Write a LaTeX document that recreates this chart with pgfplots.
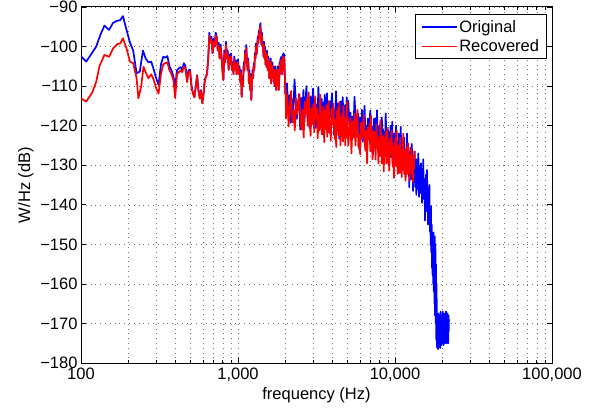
\documentclass[border=0pt]{standalone}
\usepackage{fontspec}
\setmainfont{Liberation Sans}
\usepackage{pgfplots}
\usepackage{pgfplotstable}
\pgfplotsset{compat=1.18}

\pgfplotstableread{
f db
100 -102.5
108 -103.8
118 -101.5
125 -100
133 -97
141 -94.7
151 -95.8
160 -94
170 -93.5
178 -93.3
185 -92.3
195 -95.8
205 -99
215 -101
226 -106.8
237 -106.3
248 -101
258 -103
269 -104
280 -103.8
291 -105.9
301 -108
312 -109.7
323 -104.5
334 -102.6
345 -102.8
355 -102.4
366 -105
377 -106
388 -107.6
398 -110
409 -106
420 -105.5
431 -105.2
441 -105.8
452 -104.2
463 -105
474 -108.5
484 -106
495 -105.9
506 -110
517 -111.8
528 -112.7
538 -110
549 -107.2
560 -111
571 -113
581 -111
592 -114.2
603 -112
614 -108.5
624 -107.6
635 -106.8
646 -103
657 -96.5
667 -99
678 -97.5
689 -101.7
700 -98
710 -100
721 -96.5
732 -97.5
743 -101
753 -99
764 -103
775 -99.5
786 -102.6
796 -106
807 -108.5
818 -101
829 -104
839 -98.8
850 -103
861 -101
872 -105.9
882 -102
893 -104.5
904 -101.7
915 -106
925 -104
936 -107
947 -102.5
958 -105.5
968 -103.5
979 -107
990 -104
1001 -103.2
1012 -107
1023 -105
1033 -109
1044 -106
1055 -112.7
1066 -108
1076 -110
1087 -104
1098 -106
1109 -101
1120 -104
1130 -99.6
1141 -104
1152 -106
1163 -103
1173 -109.3
1184 -106
1195 -111
1205 -107
1216 -113.5
1227 -109
1238 -106
1248 -108
1259 -104.2
1270 -106
1281 -101.6
1291 -103
1302 -99.2
1313 -102
1324 -100.5
1335 -97.5
1345 -99.2
1356 -96
1367 -98
1378 -95
1389 -94.1
1399 -97
1410 -99.5
1421 -96.5
1432 -100
1443 -98.8
1453 -102.5
1464 -98.8
1475 -103
1486 -100
1496 -104.5
1507 -102
1518 -105.1
1529 -101
1539 -104
1550 -106
1561 -102.5
1572 -105
1582 -108
1593 -104
1604 -107
1615 -103
1625 -109.3
1636 -106
1647 -108
1658 -104
1668 -107
1679 -105
1690 -109
1701 -106
1711 -110
1722 -105
1733 -108
1743 -106
1754 -111
1765 -107
1776 -109
1787 -105
1797 -110
1808 -107
1819 -111
1830 -108
1841 -104
1852 -107
1862 -103
1873 -106
1884 -102.6
1895 -105
1905 -103
1916 -107
1927 -102
1938 -105
1948 -101.7
1959 -104
1970 -102
1981 -106
1991 -108
2002 -112
2013 -110
2024 -116
2034 -117.7
2050 -109.3
2090 -115.3
2130 -112.3
2170 -119.3
2210 -113.3
2250 -117.3
2290 -108.3
2330 -113.3
2370 -118.3
2410 -114.3
2450 -112
2490 -121
2530 -113
2570 -117
2610 -111
2650 -119
2690 -114
2730 -110
2770 -118
2810 -115
2850 -120.6
2890 -112.6
2930 -116.6
2970 -113.6
3010 -110.6
3050 -116.6
3090 -113.6
3130 -120.6
3170 -114.6
3210 -118.6
3250 -110.2
3290 -115.2
3330 -120.2
3370 -116.2
3410 -113.2
3450 -122.2
3490 -114.2
3530 -118.2
3570 -112.2
3610 -120.2
3650 -115.8
3690 -111.8
3730 -119.8
3770 -116.8
3810 -121.8
3850 -113.8
3890 -117.8
3930 -114.8
3970 -111.8
4010 -117.8
4050 -115.3
4090 -122.3
4130 -116.3
4170 -120.3
4210 -111.3
4250 -116.3
4290 -121.3
4330 -117.3
4370 -114.3
4410 -123.3
4450 -115.8
4490 -119.8
4530 -113.8
4570 -121.8
4610 -116.8
4650 -112.8
4690 -120.8
4730 -117.8
4770 -122.8
4810 -114.8
4850 -118.8
4890 -115.8
4930 -112.8
4970 -118.8
5040 -113.7
5120 -119.7
5200 -116.7
5280 -123.7
5360 -117.7
5440 -121.7
5520 -112.7
5600 -117.7
5680 -122.7
5760 -118.7
5840 -117
5920 -126
6000 -118
6080 -122
6160 -116
6240 -124
6320 -119
6400 -115
6480 -123
6560 -120
6640 -126.2
6720 -118.2
6800 -122.2
6880 -119.2
6960 -116.2
7040 -123.2
7120 -125.2
7200 -120.2
7280 -127.2
7360 -118.2
7440 -122.1
7520 -118.1
7600 -125.1
7680 -116.1
7760 -123.1
7840 -127.1
7920 -120.1
8000 -124.1
8080 -119.1
8160 -126.1
8240 -117.9
8320 -123.9
8400 -120.9
8480 -127.9
8560 -121.9
8640 -125.9
8720 -116.9
8800 -121.9
8880 -126.9
8960 -122.9
9040 -121
9120 -130
9200 -122
9280 -126
9360 -120
9440 -128
9520 -123
9600 -119
9680 -127
9760 -124
9840 -130
9920 -122
10000 -126
10080 -123
10160 -120
10240 -127
10320 -129
10400 -124
10480 -131
10560 -122
10640 -126.3
10720 -122.3
10800 -129.3
10880 -120.3
10960 -127.3
11040 -131.3
11120 -124.3
11200 -128.3
11280 -123.3
11360 -130.3
11440 -123
11520 -129
11600 -126
11680 -133
11760 -127
11840 -131
11920 -122
12000 -127
12080 -132
12160 -128
12240 -126.6
12320 -135.6
12400 -127.6
12480 -131.6
12560 -125.6
12640 -133.6
12720 -128.6
12800 -124.6
12880 -132.6
12960 -129.6
13040 -136.5
13120 -128.5
13200 -132.5
13280 -129.5
13360 -126.5
13440 -133.5
13520 -135.5
13600 -130.5
13680 -137.5
13760 -128.5
13840 -133
13920 -129
14000 -136
14080 -127
14160 -134
14240 -138
14320 -131
14400 -135
14480 -130
14560 -137
14640 -129.5
14720 -135.5
14800 -132.5
14880 -139.5
14960 -133.5
15040 -137.5
15120 -128.5
15200 -133.5
15280 -138.5
15360 -134.5
15440 -133.5
15520 -144
15600 -134.7
15680 -139.3
15760 -132.4
15840 -141.6
15920 -135.8
16000 -131.2
16080 -140.5
16160 -137
16240 -145
16320 -136
16400 -141.7
16480 -138.6
16560 -135
16640 -143.4
16720 -146.8
16800 -141.8
16880 -150.2
16960 -140.4
17040 -152
17120 -145
17200 -156
17280 -147
17360 -158
17440 -148
17520 -160
17600 -147
17680 -162
17760 -149
17840 -165
17920 -148
18000 -168
18080 -150
18160 -170
18240 -155
18320 -174
18400 -160
18480 -176
18560 -168
18640 -175
18720 -170
18800 -176.5
18880 -167.5
18960 -173
19040 -169
19120 -176
19200 -168
19280 -172
19360 -170
19440 -176.2
19520 -167
19600 -174
19680 -169.5
19760 -175.5
19840 -168
19920 -171.5
20000 -169
20080 -174.5
20160 -167
20240 -173
20320 -170
20400 -175.5
20480 -168.5
20560 -172
20640 -167.5
20720 -174
20800 -169
20880 -175
20960 -168
21040 -171
21120 -167
21200 -174.5
21280 -169.5
21360 -175
21440 -168
21520 -172.5
21600 -167.5
21680 -174
21760 -169
21840 -175
21920 -168
22000 -172
22050 -169
}\original

\pgfplotstableread{
f db
100 -113.1
108 -113.9
118 -111.6
125 -108.9
131 -105
141 -102.1
151 -102.6
160 -100.5
170 -99.4
178 -99.2
185 -97.9
195 -100.5
205 -103.8
215 -104.2
226 -108
232 -113.1
242 -110
250 -105.1
258 -106.5
269 -108
280 -107
291 -108.5
301 -110.5
312 -111.9
323 -107
334 -104.5
345 -104.2
355 -104
366 -106
377 -107
388 -108.5
398 -113
409 -107
420 -106.5
431 -106
441 -106.5
452 -105
463 -105.8
474 -109
484 -106.5
495 -106.2
506 -110.5
517 -112
528 -112.9
538 -110.2
549 -107.4
560 -111.2
571 -113.2
581 -111.2
592 -114.4
603 -112.2
614 -108.8
624 -107.8
635 -107
646 -103.2
657 -97.3
667 -99
678 -98.3
689 -101.7
700 -98.8
710 -100
721 -97.3
732 -97.5
743 -101
753 -99.8
764 -103
775 -100.3
786 -102.6
796 -106
807 -108.5
818 -101.8
829 -104
839 -99.6
850 -103
861 -101.8
872 -105.9
882 -102.8
893 -104.5
904 -102.5
915 -106
925 -104.8
936 -107
947 -103.3
958 -105.5
968 -104.3
979 -107
990 -104.5
1001 -104
1012 -107
1023 -105.8
1033 -109
1044 -106.8
1055 -112.7
1066 -108.8
1076 -110
1087 -104.8
1098 -106
1109 -101.8
1120 -104
1130 -100.4
1141 -104
1152 -106
1163 -103.8
1173 -109.3
1184 -106.8
1195 -111
1205 -107.8
1216 -113.5
1227 -109
1238 -106.8
1248 -108
1259 -105
1270 -106
1281 -102.4
1291 -103
1302 -100
1313 -102
1324 -100.5
1335 -98.3
1345 -99.2
1356 -96.8
1367 -98
1378 -95.2
1389 -94.9
1399 -97
1410 -99.5
1421 -97.3
1432 -100
1443 -99.6
1453 -102.5
1464 -99.6
1475 -103
1486 -100.8
1496 -104.5
1507 -102.8
1518 -105.1
1529 -101.8
1539 -104
1550 -106
1561 -103.3
1572 -105
1582 -108
1593 -104.8
1604 -107
1615 -103.8
1625 -109.3
1636 -106.8
1647 -108
1658 -104.8
1668 -107
1679 -105.8
1690 -109
1701 -106.8
1711 -110
1722 -105.8
1733 -108
1743 -106.8
1754 -111
1765 -107.8
1776 -109
1787 -105.8
1797 -110
1808 -107.8
1819 -111
1830 -108
1841 -104.8
1852 -107
1862 -103.8
1873 -106
1884 -103.4
1895 -105
1905 -103.8
1916 -107
1927 -102.8
1938 -105
1948 -102.5
1959 -104
1970 -102.8
1981 -106
1991 -108
2002 -112
2013 -110.8
2020 -118.2
2060 -112.2
2100 -120.2
2140 -115.2
2180 -111.2
2220 -119.2
2260 -116.2
2300 -121.2
2340 -113.2
2380 -117.2
2420 -115
2460 -112
2500 -119
2540 -121
2580 -116
2620 -123
2660 -114
2700 -117
2740 -113
2780 -120
2820 -111.6
2860 -118.6
2900 -122.6
2940 -115.6
2980 -119.6
3020 -114.6
3060 -121.6
3100 -112.6
3140 -118.6
3180 -115.6
3220 -123.2
3260 -117.2
3300 -121.2
3340 -112.2
3380 -117.2
3420 -122.2
3460 -118.2
3500 -115.2
3540 -124.2
3580 -116.2
3620 -120.8
3660 -114.8
3700 -122.8
3740 -117.8
3780 -113.8
3820 -121.8
3860 -118.8
3900 -123.8
3940 -115.8
3980 -119.8
4020 -117.4
4060 -114.4
4100 -121.4
4140 -123.4
4180 -118.4
4220 -125.4
4260 -116.4
4300 -119.4
4340 -115.4
4380 -122.4
4420 -114
4460 -121
4500 -125
4540 -118
4580 -122
4620 -117
4660 -124
4700 -115
4740 -121
4780 -118
4820 -125
4860 -119
4900 -123
4940 -114
4980 -119
5040 -125
5120 -121
5200 -118
5280 -127
5360 -119
5440 -123
5520 -117
5600 -125
5680 -120
5760 -116
5840 -125.3
5920 -122.3
6000 -127.3
6080 -119.3
6160 -123.3
6240 -120.3
6320 -117.3
6400 -124.3
6480 -126.3
6560 -121.3
6640 -129.5
6720 -120.5
6800 -123.5
6880 -119.5
6960 -126.5
7040 -117.5
7120 -124.5
7200 -128.5
7280 -121.5
7360 -125.5
7440 -121.6
7520 -128.6
7600 -119.6
7680 -125.6
7760 -122.6
7840 -129.6
7920 -123.6
8000 -127.6
8080 -118.6
8160 -123.6
8240 -129.6
8320 -125.6
8400 -122.6
8480 -131.6
8560 -123.6
8640 -127.6
8720 -121.6
8800 -129.6
8880 -124.6
8960 -120.6
9040 -129.4
9120 -126.4
9200 -131.4
9280 -123.4
9360 -127.4
9440 -124.4
9520 -121.4
9600 -128.4
9680 -130.4
9760 -125.4
9840 -133.2
9920 -124.2
10000 -127.2
10080 -123.2
10160 -130.2
10240 -121.2
10320 -128.2
10400 -132.2
10480 -125.2
10560 -129.2
10640 -125
10720 -132
10800 -123
10880 -129
10960 -126
11040 -133
11120 -127
11200 -131
11280 -122
11360 -127
11440 -132.2
11520 -128.8
11600 -126.2
11680 -133.9
11760 -127.1
11840 -130.5
11920 -125.4
12000 -132.2
12080 -127.9
12160 -124.5
12240 -132.2
12320 -129.8
12400 -133.8
12480 -127.4
12560 -130.6
12640 -128.2
12720 -125.8
12800 -131.4
12880 -133
12960 -129
13040 -134.2
13120 -127.5
13200 -131
13280 -126.5
13300 -128.2
}\recovered

\begin{document}
\begin{tikzpicture}
\begin{axis}[
  name=ax,
  scale only axis, width=471pt, height=356pt,
  xmode=log, xmin=100, xmax=100000, ymin=-180, ymax=-90,
  xtick={100,1000,10000,100000},
  xticklabels={100,{1,000},{10,000},{100,000}},
  minor xtick={200,300,400,500,600,700,800,900,2000,3000,4000,5000,6000,7000,8000,9000,20000,30000,40000,50000,60000,70000,80000,90000},
  ytick={-180,-170,-160,-150,-140,-130,-120,-110,-100,-90},
  yticklabels={−180,−170,−160,−150,−140,−130,−120,−110,−100,−90},
  grid=both,
  major grid style={black!55, line width=0.5pt, dash pattern=on 0.8pt off 4pt},
  minor grid style={black!55, line width=0.5pt, dash pattern=on 0.8pt off 4pt},
  tick align=inside,
  major tick length=5pt, minor tick length=3pt,
  tick style={black, line width=0.6pt},
  axis line style={line width=1pt},
  xlabel={frequency (Hz)}, ylabel={W/Hz (dB)},
  every tick label/.append style={font=\fontsize{16.5}{19}\selectfont},
  xticklabel style={yshift=-1pt},
  label style={font=\fontsize{16.5}{19}\selectfont},
  legend style={at={(1,1)}, anchor=north east, xshift=-5pt, yshift=-7.5pt,
    font=\fontsize{16.5}{19}\selectfont, draw=black, line width=0.8pt,
    inner xsep=5.5pt, inner ysep=4pt, row sep=3pt,
    nodes={inner xsep=2pt, inner ysep=1.5pt}},
  legend cell align=left,
  legend image code/.code={\draw[#1, line width=1.4pt] (0pt,0pt) -- (35pt,0pt);},
]
\addplot[color=blue, line width=1.7pt, line join=round] table[x=f, y=db] {\original};
\addlegendentry{Original}
\addplot[color=red, line width=1.7pt, line join=round] table[x=f, y=db] {\recovered};
\addlegendentry{Recovered}
\end{axis}
\pgfresetboundingbox
\path[use as bounding box] ([shift={(-81pt,-46pt)}]ax.south west) rectangle ([shift={(47pt,7pt)}]ax.north east);
\end{tikzpicture}
\end{document}
